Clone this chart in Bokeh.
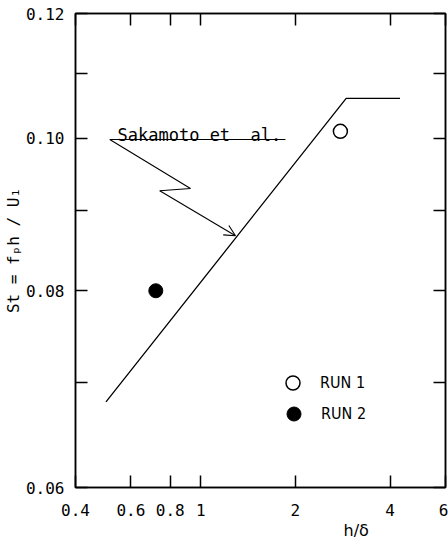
from bokeh.plotting import figure
from bokeh.models import (FixedTicker, LogAxis, CustomJSTickFormatter, Label, Arrow,
                          OpenHead, Legend, LegendItem, Range1d, Title)
from bokeh.embed import file_html
from bokeh.resources import INLINE

# ---- data ----
sak_x = [0.5, 2.9, 4.3]          # Sakamoto et al. correlation, h/delta
sak_y = [0.068, 0.106, 0.106]    # St
run1_x = [2.78]
run1_y = [0.101]
run2_x = [0.72]
run2_y = [0.080]

x_ticks = [0.4, 0.6, 0.8, 1, 2, 4, 6]
x_labels = ["0.4", "0.6", "0.8", "1", "2", "4", "6"]
y_ticks = [0.06, 0.08, 0.10, 0.12]
y_labels = ["0.06", "0.08", "0.10", "0.12"]
y_minor = [0.07, 0.09, 0.11]

# callout for "Sakamoto et al." (underline + zigzag + arrow), in data units
callout_x = [1.86, 0.514, 0.928, 0.741]
callout_y = [0.0998, 0.0998, 0.0929, 0.0926]
arrow_tip_x = 1.29
arrow_tip_y = 0.0867

MONO = "DejaVu Sans Mono"
COND = "DejaVu Sans Condensed"

p = figure(width=448, height=541, x_axis_type="log", y_axis_type="log",
           x_range=Range1d(0.4, 6), y_range=Range1d(0.06, 0.12),
           output_backend="svg", toolbar_location=None,
           min_border_left=75, min_border_right=3, min_border_top=13, min_border_bottom=54)
p.xgrid.visible = False
p.ygrid.visible = False
p.outline_line_color = "black"
p.outline_line_width = 1.5
p.background_fill_color = "white"
p.border_fill_color = "white"

lookup = """
for (let i = 0; i < t.length; i++) { if (Math.abs(t[i] - tick) < 1e-9) return l[i]; }
return "";"""
xfmt = CustomJSTickFormatter(args=dict(t=x_ticks, l=x_labels), code=lookup)
yfmt = CustomJSTickFormatter(args=dict(t=y_ticks, l=y_labels), code=lookup)
blank = CustomJSTickFormatter(code="return '';")


def style(ax, labels=True):
    ax.axis_line_color = "black"
    ax.axis_line_width = 1.5
    ax.major_tick_in = 12
    ax.major_tick_out = 0
    ax.minor_tick_in = 12
    ax.minor_tick_out = 0
    ax.major_tick_line_width = 1.5
    ax.minor_tick_line_width = 1.5
    ax.major_tick_line_color = "black"
    ax.minor_tick_line_color = "black"
    if labels:
        ax.major_label_text_font = MONO
        ax.major_label_text_font_size = "16px"
        ax.major_label_text_color = "black"
    else:
        ax.major_label_text_font_size = "0px"
        ax.major_label_standoff = 0


xa = p.xaxis[0]
xa.ticker = FixedTicker(ticks=x_ticks, minor_ticks=[])
xa.formatter = xfmt
style(xa)
xa.major_label_standoff = 16

ya = p.yaxis[0]
ya.ticker = FixedTicker(ticks=y_ticks, minor_ticks=y_minor)
ya.formatter = yfmt
style(ya)
ya.major_label_standoff = 11

top = LogAxis(ticker=FixedTicker(ticks=x_ticks, minor_ticks=[]), formatter=blank)
style(top, labels=False)
p.add_layout(top, "above")
right = LogAxis(ticker=FixedTicker(ticks=y_ticks, minor_ticks=y_minor), formatter=blank)
style(right, labels=False)
p.add_layout(right, "right")

# axis titles as side-panel titles
p.add_layout(Title(text="h/\u03b4", align="left", offset=268, standoff=0,
                   text_font="DejaVu Sans", text_font_size="16px",
                   text_font_style="normal", text_color="black"), "below")
p.add_layout(Title(text="St = f\u209ah / U\u2081", align="center", offset=22, standoff=0,
                   text_font=MONO, text_font_size="16px",
                   text_font_style="normal", text_color="black"), "left")

# Sakamoto line
p.line(sak_x, sak_y, line_color="black", line_width=1.3)

# callout
p.line(callout_x, callout_y, line_color="black", line_width=1.1)
p.add_layout(Arrow(end=OpenHead(size=11, line_width=1.1, line_color="black"),
                   x_start=callout_x[-1], y_start=callout_y[-1],
                   x_end=arrow_tip_x, y_end=arrow_tip_y,
                   line_color="black", line_width=1.1))
p.add_layout(Label(x=0.544, y=0.1005, text="Sakamoto et\u00a0 al.",
                   text_font=MONO, text_font_size="17px", text_color="black",
                   text_baseline="alphabetic", text_align="left"))

# data points
r1 = p.scatter(run1_x, run1_y, marker="circle", size=14, fill_color="white",
               line_color="black", line_width=1.5)
r2 = p.scatter(run2_x, run2_y, marker="circle", size=14, fill_color="black",
               line_color="black")


def make_legend(label, rend, loc):
    return Legend(items=[LegendItem(label=label, renderers=[rend])],
                  location=loc, glyph_width=35, glyph_height=35,
                  padding=0, margin=0, border_line_color=None, background_fill_alpha=0,
                  label_text_font=COND, label_text_font_size="16px",
                  label_text_color="black", label_standoff=10)


p.add_layout(make_legend("RUN 1", r1, (200, 87)))
p.add_layout(make_legend("RUN 2", r2, (201, 56)))

open("out.html", "w").write(file_html(p, INLINE))
